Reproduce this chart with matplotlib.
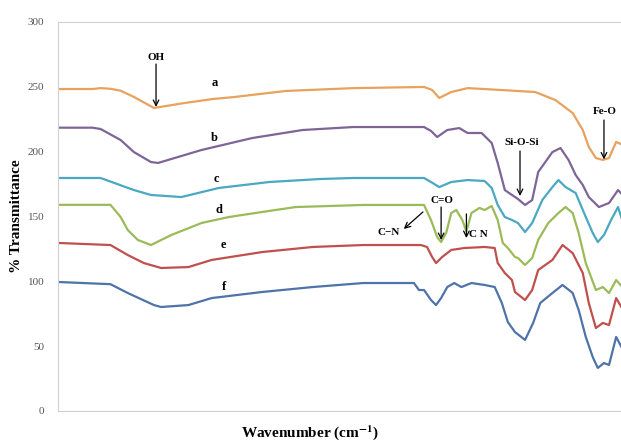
import matplotlib
matplotlib.use("Agg")
import matplotlib.pyplot as plt

plt.rcParams['font.family'] = ['Liberation Serif', 'DejaVu Serif']
plt.rcParams['mathtext.fontset'] = 'stix'

# ---- data (wavenumber cm-1, % transmittance offset) ----
wn_a = [4000, 3783, 3731, 3668, 3604, 3520, 3393, 3201, 3028, 2881, 2561, 2133, 1685, 1634, 1589, 1513, 1410, 1302,
        982, 854, 745, 681, 643, 598, 554, 515, 470, 426, 400]
t_a = [248.3, 248.3, 249, 248.5, 247, 242.2, 233.7, 237.5, 240.5, 242.2, 246.8, 249, 249.9, 247.6, 241.4, 246, 249, 248.3,
       246, 239.8, 229.8, 216.7, 203.6, 195.1, 193.6, 195.1, 207.5, 205.1, 201.3]

wn_b = [4000, 3783, 3731, 3604, 3520, 3412, 3367, 3092, 2772, 2453, 2133, 1685, 1641, 1602, 1538, 1462, 1410,
        1321, 1257, 1219, 1174, 1129, 1091, 1046, 1001, 963, 873, 822, 771, 726, 681, 643, 579, 515, 458, 400]
t_b = [218.5, 218.5, 217.5, 209, 199.7, 192, 191.3, 201.3, 210.5, 216.7, 219, 219, 216, 211.3, 216.7, 218.2, 214.4,
       214.4, 206.7, 191.3, 170.4, 166.6, 163.5, 158.9, 162.7, 184.3, 199.7, 202.8, 193.6, 182, 174.3, 165, 157.3,
       160.4, 170.4, 162.7]

wn_c = [4000, 3783, 3731, 3520, 3412, 3220, 2983, 2664, 2344, 2133, 1685, 1641, 1589, 1513, 1410, 1302, 1257,
        1219, 1174, 1129, 1091, 1046, 1001, 937, 873, 835, 790, 726, 662, 618, 586, 547, 502, 458, 426, 400]
t_c = [179.7, 179.7, 179.7, 170.4, 166.6, 165, 172, 176.6, 178.9, 179.7, 179.7, 176.6, 172.7, 176.6, 178.1, 177.4,
       172, 158.9, 149.6, 147.3, 145, 138, 145, 162.7, 172.7, 178.1, 172.7, 168.1, 149.6, 137.3, 130.3, 135.7,
       147.3, 157.3, 145, 137.3]

wn_d = [4000, 3668, 3604, 3559, 3495, 3412, 3284, 3092, 2919, 2708, 2497, 2069, 1685, 1641, 1602, 1577, 1545,
        1513, 1481, 1443, 1417, 1385, 1334, 1302, 1257, 1219, 1187, 1155, 1110, 1091, 1046, 1001, 963, 899, 835,
        790, 745, 707, 662, 598, 554, 515, 470, 426, 400]
t_d = [159, 159, 149.6, 139.6, 131.9, 128, 135.7, 145, 149.6, 153.5, 157.3, 158.9, 158.9, 147.3, 134.2, 130.3,
       137.3, 152.7, 155, 147.3, 138.5, 152.7, 156.6, 155, 158.1, 147.3, 129.6, 125.7, 118.8, 118, 112.6, 118,
       131.9, 145, 152.7, 157.3, 152.7, 137.3, 114.1, 93.3, 95.6, 91, 101, 94.9, 93.3]

wn_e = [4000, 3668, 3559, 3457, 3348, 3175, 3028, 2708, 2389, 2069, 1705, 1666, 1634, 1609, 1570, 1513, 1430,
        1302, 1238, 1219, 1174, 1129, 1110, 1046, 1001, 963, 873, 809, 745, 681, 643, 598, 554, 515, 470, 426, 400]
t_e = [129.6, 128, 120.3, 114.1, 110.3, 111, 116.5, 122.6, 126.5, 128, 128, 126.5, 118.8, 114.1, 118.8, 124.2,
       125.7, 126.5, 125.7, 114.1, 106.4, 101, 91.8, 85.6, 93.3, 108.7, 116.5, 128, 121.8, 106.4, 83.3, 64, 67.9,
       66.3, 87.1, 77.9, 75.6]

wn_f = [4000, 3668, 3559, 3393, 3348, 3175, 3028, 2708, 2389, 2069, 1749, 1717, 1685, 1641, 1609, 1577, 1538,
        1494, 1449, 1385, 1302, 1238, 1193, 1155, 1110, 1046, 995, 950, 873, 809, 745, 707, 662, 618, 586, 547,
        515, 470, 426, 400]
t_f = [99.5, 97.8, 91, 81.7, 80.2, 81.7, 87.1, 91.8, 95.6, 98.7, 98.7, 93.3, 93.3, 85.6, 81.7, 87.1, 95.6,
       98.7, 95.6, 98.7, 97.2, 95.6, 83.3, 68.6, 60.9, 54.8, 67.9, 83.3, 91, 97.2, 91, 77.9, 57.1, 41.6, 33.2,
       37, 35.5, 57.1, 47, 44.7]

series_names = ['a', 'b', 'c', 'd', 'e', 'f']
colors = ['#E9A15E', '#7E6598', '#4AA8C2', '#9BBB59', '#C0504D', '#4F73A8']
y_ticks = [0, 50, 100, 150, 200, 250, 300]

fig = plt.figure(figsize=(6.21, 4.45), dpi=100)
ax = fig.add_axes([58 / 621, (445 - 411) / 445, (621 - 58) / 621 + 0.01, (411 - 22) / 445])

all_wn = [wn_a, wn_b, wn_c, wn_d, wn_e, wn_f]
all_t = [t_a, t_b, t_c, t_d, t_e, t_f]
for wn, t, c in zip(all_wn, all_t, colors):
    ax.plot(wn, t, color=c, lw=1.6, solid_joinstyle='round')

ax.set_xlim(4000, 400)
ax.set_ylim(0, 300)
ax.set_yticks(y_ticks)
ax.set_yticklabels([str(v) for v in y_ticks], color='#555555', fontsize=8)
ax.tick_params(axis='y', length=0, pad=10)
ax.set_xticks([])
for s in ['left', 'bottom', 'top']:
    ax.spines[s].set_color('#D0D0D0')
    ax.spines[s].set_linewidth(0.8)
ax.spines['right'].set_visible(False)

ax.set_ylabel('% Transmittance', fontsize=11, fontweight='bold', labelpad=3)
fig.text(310 / 621, 1 - 433 / 445, r'Wavenumber (cm$^{\mathbf{-1}}$)', fontsize=11, fontweight='bold',
         ha='center', va='center')

# curve labels
label_pos = [(3009, 253), (3009, 210.5), (2996, 179), (2983, 155), (2951, 128), (2951, 95.6)]
for name, (x, y) in zip(series_names, label_pos):
    ax.text(x, y, name, fontsize=9, fontweight='bold', ha='center', va='center')

arrow = dict(arrowstyle='->', lw=0.9, color='black', shrinkA=0, shrinkB=0)
ax.annotate('', xy=(3380, 234.5), xytext=(3380, 267.6), arrowprops=arrow)
ax.text(3380, 273, 'OH', fontsize=8, fontweight='bold', ha='center', va='center')

ax.annotate('', xy=(547, 194), xytext=(547, 224.4), arrowprops=arrow)
ax.text(540, 230.6, 'Fe-O', fontsize=8, fontweight='bold', ha='center', va='center')

ax.annotate('', xy=(1078, 165.8), xytext=(1078, 200.5), arrowprops=arrow)
ax.text(1065, 206.7, 'Si-O-Si', fontsize=8, fontweight='bold', ha='center', va='center')

ax.annotate('', xy=(1577, 131.9), xytext=(1577, 157.3), arrowprops=arrow)
ax.text(1570, 162.7, 'C=O', fontsize=8, fontweight='bold', ha='center', va='center')

ax.annotate('', xy=(1813, 140.4), xytext=(1692, 153.5), arrowprops=arrow)
ax.text(1909, 138, 'C\u2212N', fontsize=8, fontweight='bold', ha='center', va='center')

ax.annotate('', xy=(1417, 133.4), xytext=(1417, 152), arrowprops=arrow)
ax.text(1398, 136.5, 'C N', fontsize=8, fontweight='bold', ha='left', va='center')

fig.savefig('out.png', dpi=100)
